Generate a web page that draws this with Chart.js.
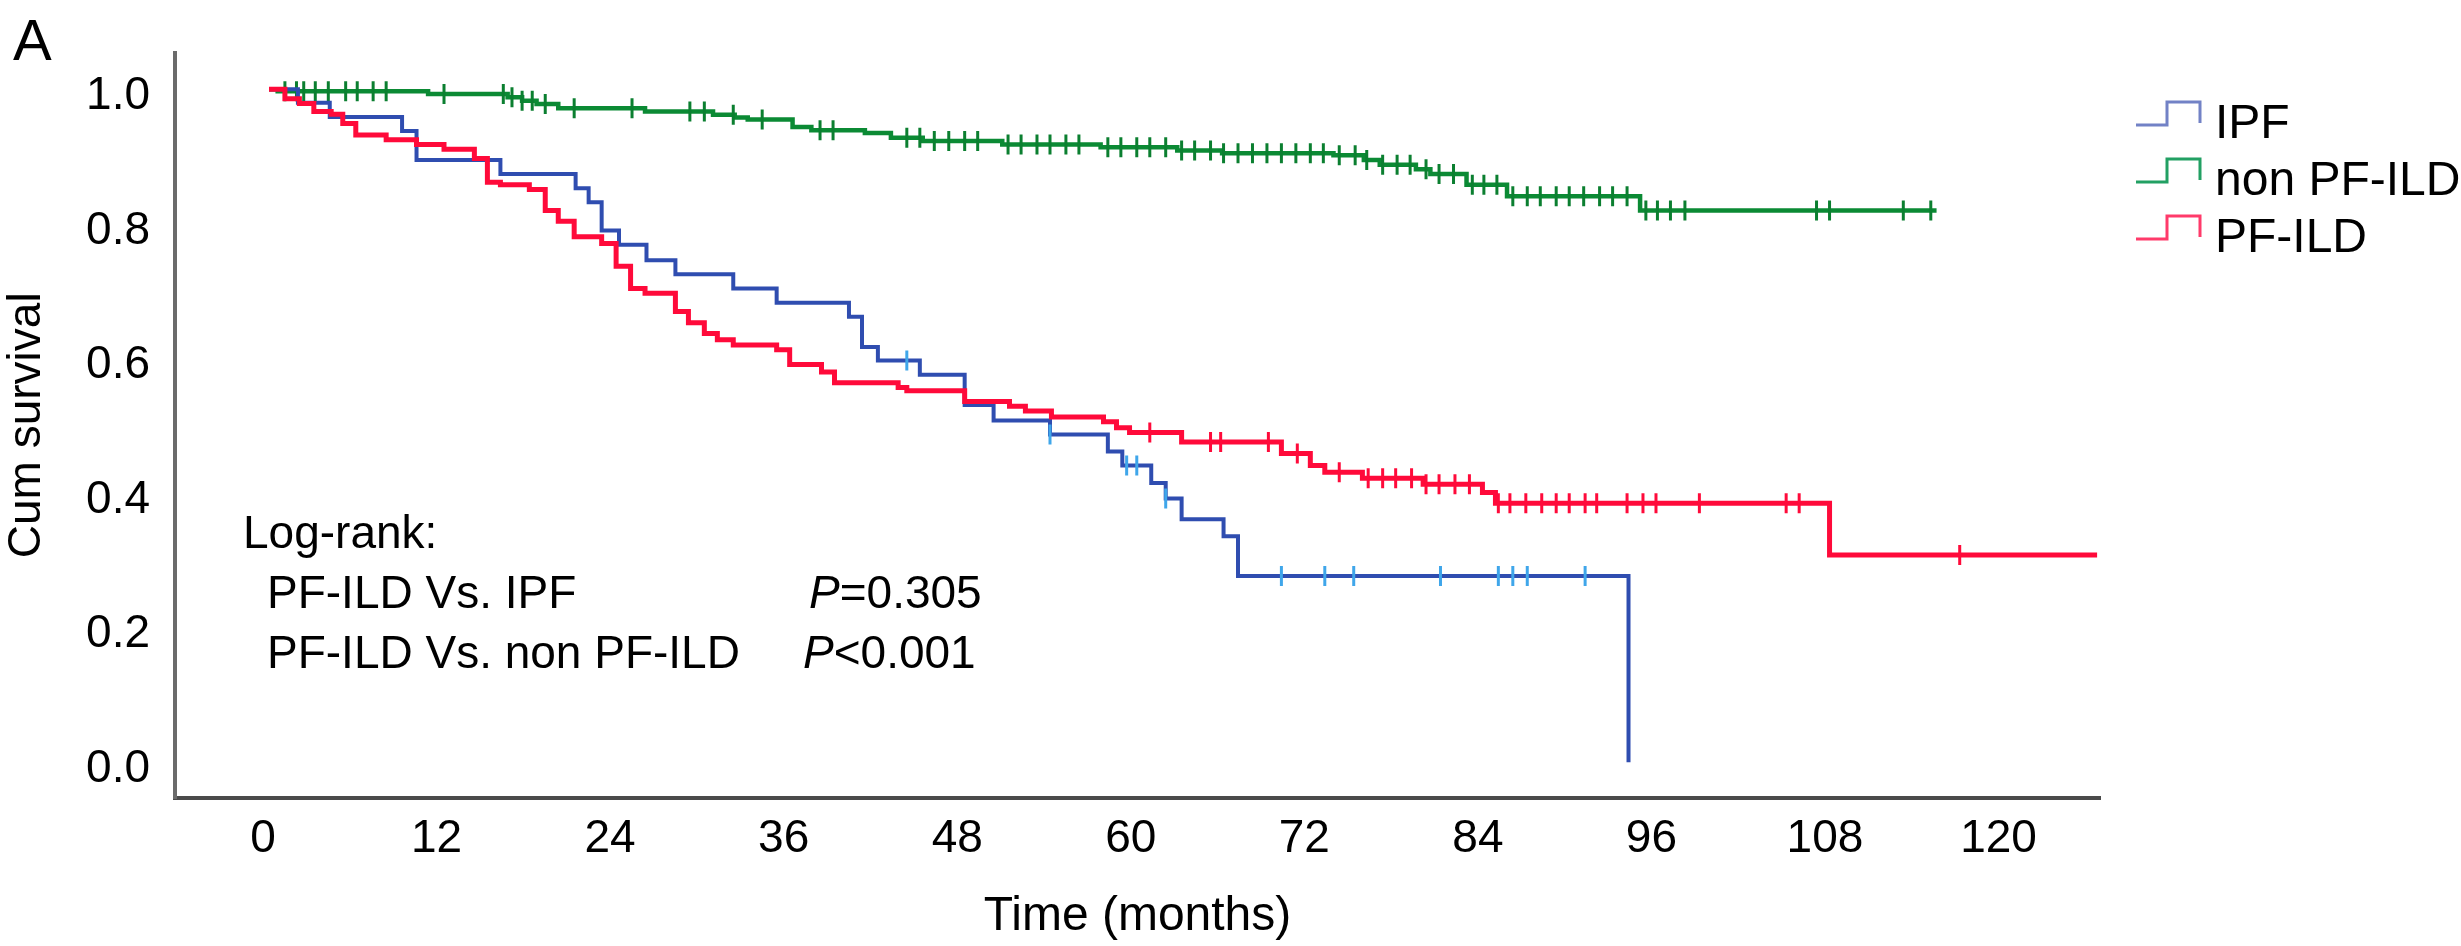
<!DOCTYPE html>
<html>
<head>
<meta charset="utf-8">
<script src="https://cdn.jsdelivr.net/npm/chart.js@4.4.1/dist/chart.umd.min.js"></script>
<style>
  html, body { margin: 0; padding: 0; background: #fff; }
  #wrap { width: 2461px; height: 946px; position: relative; }
</style>
</head>
<body>
<div id="wrap"><canvas id="km"></canvas></div>
<script>
// ---- data (months, cumulative survival) ----
const xTicks = [0, 12, 24, 36, 48, 60, 72, 84, 96, 108, 120];
const yTicks = [0, 0.2, 0.4, 0.6, 0.8, 1.0];

// each step: [time where the drop happens, survival after the drop]
const ipfSteps = [
  [0, 1.0], [2.0, 0.98], [4.2, 0.959], [9.2, 0.938], [10.2, 0.895], [16.0, 0.874],
  [21.2, 0.853], [22.1, 0.832], [23.0, 0.79], [24.2, 0.769], [26.1, 0.746], [28.1, 0.725],
  [32.1, 0.704], [35.1, 0.683], [40.1, 0.662], [41.0, 0.617], [42.1, 0.597], [45.0, 0.576],
  [48.1, 0.531], [50.1, 0.508], [54.0, 0.487], [58.0, 0.462], [59.0, 0.441], [61.0, 0.415],
  [62.0, 0.392], [63.1, 0.361], [66.0, 0.336], [67.0, 0.277], [94.0, 0.0]
];
const ipfCensored = [44.1, 54.0, 59.3, 60.0, 62.0, 70.0, 73.0, 75.0, 81.0, 85.0, 86.0, 87.0, 91.0];

const nonPfSteps = [
  [0, 1.0], [0.6, 0.997], [11.0, 0.993], [16.5, 0.988], [17.5, 0.983], [18.5, 0.978],
  [20.0, 0.972], [26.0, 0.967], [30.7, 0.962], [32.2, 0.958], [33.1, 0.955], [36.2, 0.944],
  [37.5, 0.939], [41.2, 0.935], [43.0, 0.928], [45.2, 0.923], [50.7, 0.918], [57.5, 0.914],
  [62.8, 0.909], [65.9, 0.905], [73.6, 0.902], [75.7, 0.895], [76.8, 0.888], [79.3, 0.881],
  [80.3, 0.874], [82.8, 0.858], [85.6, 0.841], [94.8, 0.82], [115.3, 0.82]
];
const nonPfCensored = [
  1.1, 1.9, 2.4, 3.2, 4.1, 5.3, 6.1, 7.2, 8.1, 12.1, 16.2, 16.8, 17.5, 18.2, 19.1, 21.1,
  25.1, 29.1, 30.1, 32.1, 34.1, 38.1, 39.0, 44.1, 45.0, 46.0, 47.0, 48.1, 49.0, 51.1, 52.0,
  53.1, 54.0, 55.1, 56.0, 58.0, 58.9, 60.0, 60.9, 62.0, 63.1, 64.0, 65.1, 66.0, 67.0, 68.0,
  69.0, 70.0, 71.0, 72.0, 72.9, 74.0, 75.1, 75.9, 77.0, 78.0, 78.9, 80.0, 80.9, 81.9, 83.2,
  84.0, 84.9, 86.0, 87.0, 87.9, 89.0, 89.9, 90.9, 92.0, 92.9, 93.9, 95.2, 96.0, 96.9, 97.9,
  107.0, 107.9, 113.0, 114.9
];

const pfSteps = [
  [0, 1.0], [1.1, 0.986], [2.1, 0.979], [3.1, 0.967], [4.3, 0.963], [5.1, 0.949], [6.0, 0.932],
  [8.1, 0.925], [10.2, 0.918], [12.1, 0.911], [14.2, 0.897], [15.1, 0.862], [16.0, 0.858],
  [18.0, 0.851], [19.1, 0.82], [20.0, 0.804], [21.1, 0.781], [23.0, 0.771], [24.0, 0.737],
  [25.0, 0.704], [26.0, 0.697], [28.1, 0.67], [29.0, 0.653], [30.1, 0.637], [31.0, 0.628],
  [32.1, 0.62], [35.1, 0.613], [36.0, 0.591], [38.2, 0.58], [39.1, 0.564], [43.5, 0.557],
  [44.1, 0.552], [48.1, 0.536], [51.2, 0.529], [52.3, 0.522], [54.1, 0.513], [57.7, 0.506],
  [58.6, 0.497], [59.5, 0.49], [63.1, 0.476], [70.0, 0.459], [72.0, 0.441], [73.0, 0.431],
  [75.6, 0.422], [79.8, 0.413], [83.9, 0.401], [84.8, 0.385], [107.9, 0.308], [126.4, 0.308]
];
const pfCensored = [
  60.9, 65.1, 65.8, 69.1, 71.1, 74.0, 76.0, 77.0, 77.9, 79.0, 80.0, 80.9, 82.0, 83.0, 85.0,
  85.8, 86.9, 88.0, 89.0, 89.9, 91.0, 91.8, 93.9, 95.0, 95.9, 98.9, 104.9, 105.8, 116.9
];

const groups = ['IPF', 'non PF-ILD', 'PF-ILD'];
const lineColors = ['#2f4db0', '#0b8a34', '#ff0a3a'];
const censorColors = ['#3fa6ea', '#0b7f30', '#ff0a3a'];
const legendColors = ['#7282c6', '#22a063', '#ff3a6a'];

// survival level at time t (last step at or before t)
function levelAt(steps, t) {
    let s = steps[0][1];
    for (const [time, val] of steps) {
        if (time <= t) s = val;
    }
    return s;
}

const toPts = steps => steps.map(([t, s]) => ({ x: t, y: s }));
const censorPts = (steps, times) => times.map(t => ({ x: t, y: levelAt(steps, t) }));

function curve(i, steps, width, order) {
    return {
        label: groups[i], data: toPts(steps), stepped: true,
        borderColor: lineColors[i], borderWidth: width, pointRadius: 0,
        fill: false, order: order
    };
}
function ticks(i, steps, times, order) {
    return {
        label: groups[i] + ' censored', data: censorPts(steps, times), showLine: false,
        pointStyle: 'line', rotation: 90, pointRadius: 10,
        borderColor: censorColors[i], backgroundColor: censorColors[i], pointBorderWidth: 3,
        order: order
    };
}

const FONT = '"Liberation Sans", Arial, Helvetica, sans-serif';

// text and legend that sit inside the plot
const annotations = {
    id: 'annotations',
    afterDraw(chart) {
        const ctx = chart.ctx;
        ctx.save();
        ctx.fillStyle = '#000';
        ctx.textBaseline = 'alphabetic';
        ctx.textAlign = 'left';

        ctx.font = '58px ' + FONT;
        ctx.fillText('A', 13, 60);

        ctx.font = '46px ' + FONT;
        ctx.fillText('Log-rank:', 243, 548);
        ctx.fillText('PF-ILD Vs. IPF', 267, 608);
        ctx.fillText('PF-ILD Vs. non PF-ILD', 267, 668);

        // italic P then the value
        const pv = [['=0.305', 809, 608], ['<0.001', 803, 668]];
        pv.forEach(([rest, x, y]) => {
            ctx.font = 'italic 46px ' + FONT;
            ctx.fillText('P', x, y);
            const w = ctx.measureText('P').width;
            ctx.font = '46px ' + FONT;
            ctx.fillText(rest, x + w, y);
        });

        // legend with step icons
        const rows = [121, 178, 235];
        groups.forEach((g, i) => {
            const y = rows[i];
            ctx.strokeStyle = legendColors[i];
            ctx.lineWidth = 3;
            ctx.beginPath();
            ctx.moveTo(2136, y + 4);
            ctx.lineTo(2167, y + 4);
            ctx.lineTo(2167, y - 19);
            ctx.lineTo(2200, y - 19);
            ctx.lineTo(2200, y + 2);
            ctx.stroke();
            ctx.font = '48px ' + FONT;
            ctx.fillStyle = '#000';
            ctx.fillText(g, 2215, y + 17);
        });
        ctx.restore();
    }
};

new Chart(document.getElementById('km'), {
    type: 'line',
    data: {
        datasets: [
            curve(1, nonPfSteps, 4.5, 6),
            curve(0, ipfSteps, 4, 4),
            curve(2, pfSteps, 5, 2),
            ticks(1, nonPfSteps, nonPfCensored, 5),
            ticks(0, ipfSteps, ipfCensored, 3),
            ticks(2, pfSteps, pfCensored, 1)
        ]
    },
    options: {
        responsive: true,
        maintainAspectRatio: false,
        devicePixelRatio: 1,
        animation: false,
        layout: { padding: { left: 0, right: 361, top: 6, bottom: 0 } },
        plugins: {
            legend: { display: false },
            tooltip: { enabled: false }
        },
        scales: {
            x: {
                type: 'linear',
                min: -6.5, max: 126.6,
                grid: { display: false, drawTicks: false },
                border: { display: true, color: '#4a4a4a', width: 4 },
                afterBuildTicks: scale => { scale.ticks = xTicks.map(v => ({ value: v })); },
                afterFit: scale => { scale.height = 148; },
                ticks: {
                    color: '#000', padding: 14, labelOffset: -6, maxRotation: 0,
                    font: { family: FONT, size: 46 },
                    callback: v => String(v)
                },
                title: {
                    display: true, text: 'Time (months)', color: '#000',
                    font: { family: FONT, size: 48 }, padding: 0
                }
            },
            y: {
                type: 'linear',
                min: -0.053, max: 1.0545,
                grid: { display: false, drawTicks: false },
                border: { display: true, color: '#6b6b6b', width: 4 },
                afterBuildTicks: scale => { scale.ticks = yTicks.map(v => ({ value: v })); },
                afterFit: scale => { scale.width = 175; },
                ticks: {
                    color: '#000', padding: 25, labelOffset: 7,
                    font: { family: FONT, size: 46 },
                    callback: v => v.toFixed(1)
                },
                title: {
                    display: true, text: 'Cum survival', color: '#000',
                    font: { family: FONT, size: 46 }, padding: 0
                }
            }
        }
    },
    plugins: [annotations]
});
</script>
</body>
</html>
